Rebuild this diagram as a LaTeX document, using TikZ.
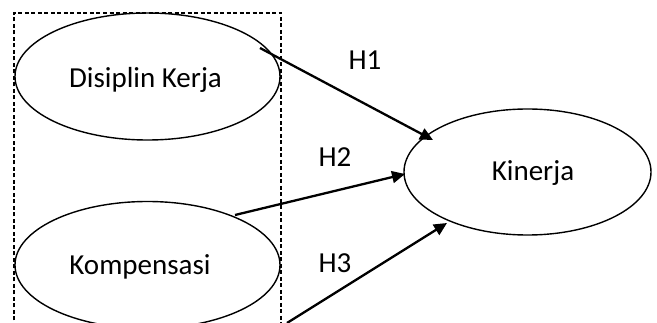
\documentclass[tikz,border=0pt]{standalone}
\usepackage{fontspec}
\setmainfont{Carlito}
\usetikzlibrary{shapes.geometric,arrows.meta}
\begin{document}
\begin{tikzpicture}[x=1pt,y=-1pt,
  oval/.style={ellipse,draw,line width=1.4pt,inner sep=0pt},
  txt/.style={anchor=base,inner sep=0pt,font=\fontsize{29}{34}\selectfont},
  arr/.style={line width=2.3pt,-{Triangle[length=13pt,width=12pt]}},
  box/.style={draw,line width=1.2pt,dash pattern=on 4pt off 2.5pt}]
\useasboundingbox (0,0) rectangle (657,323);
\clip (0,0) rectangle (657,323);
\node[oval,minimum width=265pt,minimum height=127pt] (dk) at (147.5,76.5) {};
\node[oval,minimum width=265pt,minimum height=127pt] (kp) at (147.5,265) {};
\node[oval,minimum width=247pt,minimum height=126pt] (kin) at (527.5,172) {};
\draw[box] (14,340) -- (14,13) -- (281,13) -- (281,340);
\node[txt] (tdk) at (145.5,88) {Disiplin Kerja};
\node[txt] (tkp) at (140,275) {Kompensasi};
\node[txt] (tkin) at (533,181) {Kinerja};
\node[txt] (h1) at (365,70) {H1};
\node[txt] (h2) at (335,167) {H2};
\node[txt] (h3) at (335,273) {H3};
\coordinate (h1s) at (260,48);
\coordinate (h1e) at (433,140);
\coordinate (h2s) at (235,215);
\coordinate (h2e) at (405,174);
\coordinate (h3s) at (287,323);
\coordinate (h3e) at (447,223);
\draw[arr] (h1s) -- (h1e);
\draw[arr] (h2s) -- (h2e);
\draw[arr] (h3s) -- (h3e);
\end{tikzpicture}
\end{document}
